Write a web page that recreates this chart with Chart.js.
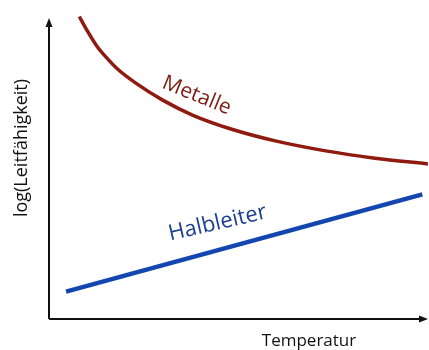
<!DOCTYPE html>
<html>
<head>
<meta charset="utf-8">
<script src="https://cdn.jsdelivr.net/npm/chart.js@4.4.1/dist/chart.umd.min.js"></script>
<style>
  html, body { margin: 0; padding: 0; background: #fff; }
  #wrap { width: 429px; height: 350px; }
</style>
</head>
<body>
<div id="wrap"><canvas id="chart"></canvas></div>
<script>
// Metalle: conductivity falls with temperature
var metallTemp = [8, 10, 12.5, 15, 18, 23, 30, 38, 48, 60, 73, 86, 100];
var metallLog  = [99.5, 95, 90, 86.2, 82.3, 77.5, 72, 67, 62.5, 58.5, 55.3, 52.9, 51];

// Halbleiter: straight rise
var halbTemp = [4.5, 98.5];
var halbLog  = [9, 41];

var seriesNames = ['Metalle', 'Halbleiter'];
var xTitle = 'Temperatur';
var yTitle = 'log(Leitfähigkeit)';

function pts(xs, ys) {
    var out = [];
    for (var i = 0; i < xs.length; i++) out.push({x: xs[i], y: ys[i]});
    return out;
}

// axes with arrow heads + titles + labels along the curves
var sketchPlugin = {
    id: 'sketch',
    afterDraw: function(chart) {
        var ctx = chart.ctx;
        var a = chart.chartArea;
        var xs = chart.scales.x, ys = chart.scales.y;
        var ox = a.left, oy = a.bottom;
        ctx.save();
        ctx.strokeStyle = '#111';
        ctx.fillStyle = '#111';
        ctx.lineWidth = 2;
        ctx.beginPath();
        ctx.moveTo(ox, oy);
        ctx.lineTo(ox, 24);
        ctx.moveTo(ox, oy);
        ctx.lineTo(chart.width - 5, oy);
        ctx.stroke();
        // arrow heads
        ctx.beginPath();
        ctx.moveTo(ox, 18);
        ctx.lineTo(ox - 3.5, 27);
        ctx.lineTo(ox + 3.5, 27);
        ctx.closePath();
        ctx.fill();
        ctx.beginPath();
        ctx.moveTo(chart.width - 1, oy);
        ctx.lineTo(chart.width - 10, oy - 3.5);
        ctx.lineTo(chart.width - 10, oy + 3.5);
        ctx.closePath();
        ctx.fill();

        // axis titles
        ctx.textAlign = 'center';
        ctx.textBaseline = 'alphabetic';
        ctx.font = '17px "Open Sans", sans-serif';
        ctx.fillText(xTitle, 309, 346);
        ctx.font = '18px "Open Sans", sans-serif';
        ctx.translate(27, 148);
        ctx.rotate(-Math.PI / 2);
        ctx.fillText(yTitle, 0, 0);
        ctx.restore();

        // curve labels
        var labels = [
            {t: seriesNames[0], x: 39, y: 73.5, ang: 22, s: 21, c: '#7d1a12'},
            {t: seriesNames[1], x: 44.5, y: 31.5, ang: -13, s: 22, c: '#1b3f8f'}
        ];
        labels.forEach(function(l) {
            ctx.save();
            ctx.translate(xs.getPixelForValue(l.x), ys.getPixelForValue(l.y));
            ctx.rotate(l.ang * Math.PI / 180);
            ctx.font = l.s + 'px "Open Sans", sans-serif';
            ctx.fillStyle = l.c;
            ctx.textAlign = 'center';
            ctx.textBaseline = 'middle';
            ctx.fillText(l.t, 0, 0);
            ctx.restore();
        });
    }
};

new Chart(document.getElementById('chart'), {
    type: 'line',
    data: {
        datasets: [
            {
                label: seriesNames[0],
                data: pts(metallTemp, metallLog),
                borderColor: '#8e1a10',
                borderWidth: 3.5,
                pointRadius: 0,
                cubicInterpolationMode: 'monotone',
                fill: false
            },
            {
                label: seriesNames[1],
                data: pts(halbTemp, halbLog),
                borderColor: '#1446b0',
                borderWidth: 4.5,
                pointRadius: 0,
                fill: false
            }
        ]
    },
    plugins: [sketchPlugin],
    options: {
        responsive: true,
        maintainAspectRatio: false,
        animation: false,
        layout: { padding: { left: 49, right: 1, top: 15, bottom: 31 } },
        plugins: { legend: { display: false }, tooltip: { enabled: false } },
        scales: {
            x: { type: 'linear', min: 0, max: 100, display: false },
            y: { type: 'linear', min: 0, max: 100, display: false }
        }
    }
});
</script>
</body>
</html>
